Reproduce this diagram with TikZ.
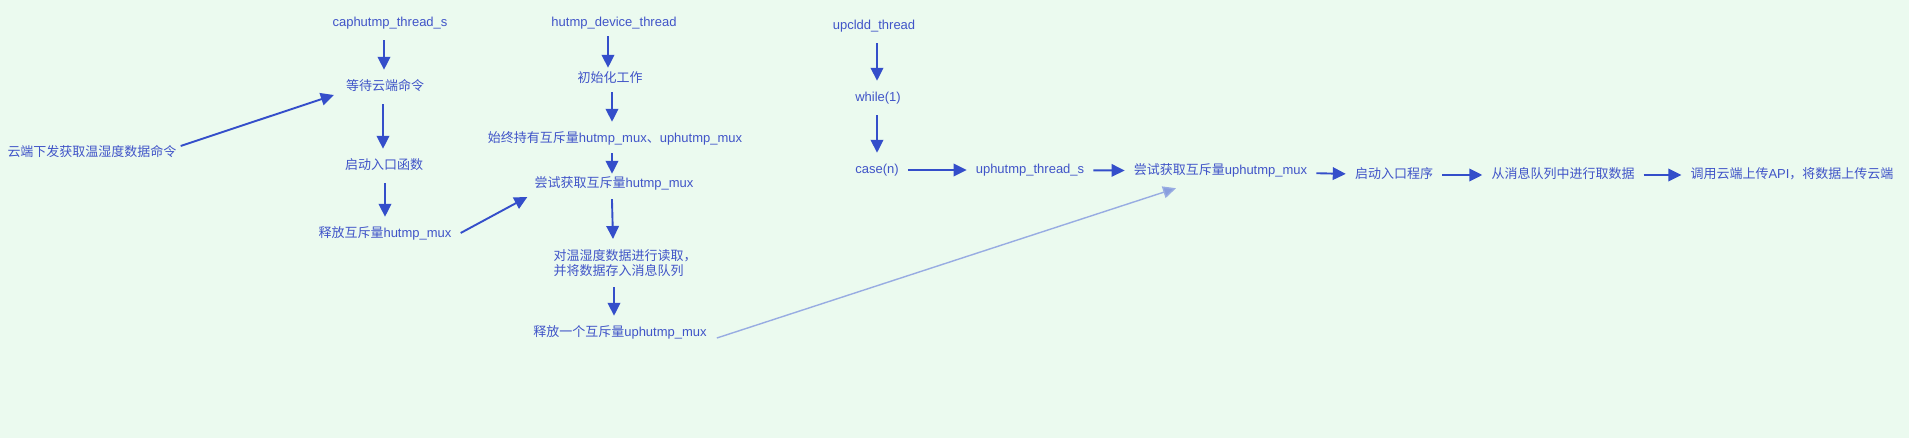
\documentclass[tikz,border=0pt]{standalone}
\usepackage{fontspec}
\setmainfont{Liberation Sans}
\newfontfamily\cjkfont{Noto Sans CJK SC}
\newcommand\zhs[1]{{\cjkfont #1}}
\usetikzlibrary{arrows.meta,calc}
\definecolor{bgc}{RGB}{235,250,239}
\definecolor{txtc}{RGB}{64,84,200}
\definecolor{arrc}{RGB}{52,78,202}
\definecolor{lightarrc}{RGB}{152,172,226}
\begin{document}
\begin{tikzpicture}[x=1pt,y=-1pt,
  lbl/.style={text=txtc,font=\fontsize{13}{14.5}\selectfont,inner xsep=9pt,inner ysep=10.5pt},
  one/.style={lbl,text height=10pt,text depth=3pt},
  conn/.style={draw=arrc,line width=1.9pt,-{Triangle[length=13pt,width=12.5pt]}},
  faint/.style={draw=lightarrc,line width=1.4pt,-{Triangle[length=13pt,width=12pt,fill=lightarrc!85!arrc]}}]
\fill[bgc] (0,0) rectangle (1909,438);
\useasboundingbox (0,0) rectangle (1909,438);

% left column
\node[one] (c0) at (92,153) {\zhs{云端下发获取温湿度数据命令}};
\node[one] (c1) at (390,23) {caphutmp\_thread\_s};
\node[one] (c2) at (385,87) {\zhs{等待云端命令}};
\node[one] (c3) at (384,166) {\zhs{启动入口函数}};
\node[one] (c4) at (385,234) {\zhs{释放互斥量}hutmp\_mux};

% middle column
\node[one] (d1) at (614,23) {hutmp\_device\_thread};
\node[one] (d2) at (610,79) {\zhs{初始化工作}};
\node[one] (d3) at (615,139) {\zhs{始终持有互斥量}hutmp\_mux\zhs{、}uphutmp\_mux};
\node[one] (d4) at (614,184) {\zhs{尝试获取互斥量}hutmp\_mux};
\node[lbl,align=left] (d5) at (625,263) {\zhs{对温湿度数据进行读取，}\\\zhs{并将数据存入消息队列}};
\node[one] (d6) at (620,333) {\zhs{释放一个互斥量}uphutmp\_mux};

% right part
\node[one] (u1) at (874,26) {upcldd\_thread};
\node[one] (u2) at (878,98) {while(1)};
\node[one] (u3) at (877,170) {case(n)};
\node[one] (u4) at (1030,170) {uphutmp\_thread\_s};
\node[one] (u5) at (1220.5,171) {\zhs{尝试获取互斥量}uphutmp\_mux};
\node[one] (u6) at (1394,175) {\zhs{启动入口程序}};
\node[one] (u7) at (1563,175) {\zhs{从消息队列中进行取数据}};
\node[one] (u8) at (1792,175) {\zhs{调用云端上传}API\zhs{，将数据上传云端}};

% connectors left
\draw[conn] ([xshift=-1pt]c2.north |- c1.south) -- ([xshift=-1pt]c2.north);
\draw[conn] ([xshift=-2pt]c2.south) -- ([xshift=-2pt]c2.south |- c3.north);
\draw[conn] ([xshift=1pt]c3.south) -- ([xshift=1pt]c3.south |- c4.north);
\draw[conn] ($(c0.east)+(-5,-7)$) -- ($(c2.west)+(-3,8)$);
\draw[conn] ($(c4.east)+(0,-1)$) -- ($(d4.west)+(2,13)$);

% connectors middle
\draw[conn,shorten <=-4pt,shorten >=-6pt] ([xshift=-6pt]d1.south) -- ([xshift=-6pt]d1.south |- d2.north);
\draw[conn,shorten <=-4pt] ([xshift=2pt]d2.south) -- ([xshift=2pt]d2.south |- d3.north);
\draw[conn,shorten <=-3pt,shorten >=-7pt] ([xshift=-3pt]d3.south) -- ([xshift=-3pt]d3.south |- d4.north);
\draw[conn,shorten <=-2pt] ([xshift=-2pt]d4.south) -- ([xshift=-1pt]d4.south |- d5.north);
\draw[conn] (d5.south -| d4.south) -- (d6.north -| d4.south);
\draw[faint] ($(d6.east)+(1,5)$) -- ($(u5.south)+(-44.5,0)$);

% connectors right
\draw[conn] ([xshift=-1pt]u2.north |- u1.south) -- ([xshift=-1pt]u2.north);
\draw[conn] ([xshift=-1pt]u2.south) -- ([xshift=-1pt]u2.south |- u3.north);
\draw[conn] (u3) -- (u4);
\draw[conn] (u4) -- (u5);
\draw[conn] (u5) -- (u6);
\draw[conn] (u6) -- (u7);
\draw[conn] (u7) -- (u8);
\end{tikzpicture}
\end{document}
